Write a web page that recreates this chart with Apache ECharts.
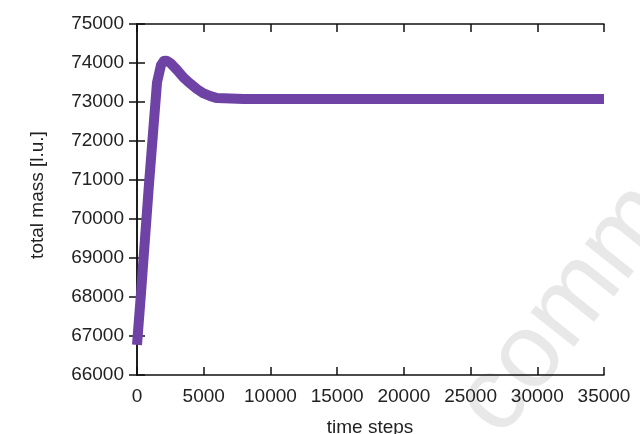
<!DOCTYPE html>
<html>
<head>
<meta charset="utf-8">
<script src="https://cdn.jsdelivr.net/npm/echarts@6/dist/echarts.min.js"></script>
<style>
html,body{margin:0;padding:0;background:#fff;}
#chart{width:640px;height:434px;}
</style>
</head>
<body>
<div id="chart"></div>
<script>
const timeSteps = [0, 300, 600, 900, 1200, 1500, 1800, 2000, 2200, 2500, 3000, 3500, 4000, 4500, 5000, 5500, 6000, 8000, 35000];
const totalMass = [66770, 68100, 69500, 70900, 72200, 73500, 73950, 74050, 74060, 74000, 73820, 73620, 73470, 73330, 73220, 73150, 73100, 73080, 73080];
const xTitle = 'time steps';
const yTitle = 'total mass [l.u.]';
const watermark = 'comm';

const pts = timeSteps.map((t, i) => [t, totalMass[i]]);
const font = 'Liberation Sans, Arial, Helvetica, sans-serif';
const axisLine = {show: true, lineStyle: {color: '#111', width: 1.5}};
const axisTick = {show: true, inside: true, length: 8, lineStyle: {color: '#111', width: 1.5}};
const labelStyle = {color: '#222', fontSize: 19, fontFamily: font, formatter: v => String(v)};

const chart = echarts.init(document.getElementById('chart'), null, {renderer: 'canvas'});
chart.setOption({
  animation: false,
  backgroundColor: '#fff',
  grid: {left: 137, right: 36, top: 24, bottom: 59, containLabel: false},
  xAxis: [
    {type: 'value', position: 'bottom', min: 0, max: 35000, interval: 5000,
     axisLine, axisTick, splitLine: {show: false},
     axisLabel: Object.assign({margin: 12}, labelStyle)},
    {type: 'value', position: 'top', min: 0, max: 35000, interval: 5000,
     axisLine, axisTick, splitLine: {show: false}, axisLabel: {show: false}}
  ],
  yAxis: [
    {type: 'value', position: 'left', min: 66000, max: 75000, interval: 1000,
     axisLine, axisTick, splitLine: {show: false},
     axisLabel: Object.assign({margin: 13}, labelStyle)},
    {type: 'value', position: 'right', min: 66000, max: 75000, interval: 1000,
     axisLine, axisTick, splitLine: {show: false}, axisLabel: {show: false}}
  ],
  graphic: [
    {type: 'text', x: 370, y: 428, z: 10,
     style: {text: xTitle, fill: '#222', font: '19px ' + font, textAlign: 'center', textVerticalAlign: 'middle'}},
    {type: 'text', x: 38, y: 195, rotation: Math.PI / 2, z: 10,
     style: {text: yTitle, fill: '#222', font: '19px ' + font, textAlign: 'center', textVerticalAlign: 'middle'}},
    {type: 'text', x: 519, y: 454, rotation: 0.9, z: -1, silent: true,
     style: {text: watermark, fill: '#e8e8e8', font: '105px ' + font, textAlign: 'left', textVerticalAlign: 'bottom'}}
  ],
  series: [{
    type: 'line', xAxisIndex: 0, yAxisIndex: 0, data: pts,
    showSymbol: false, symbol: 'none',
    lineStyle: {color: '#6f42a6', width: 10, cap: 'butt', join: 'round'},
    clip: true
  }]
});
</script>
</body>
</html>
